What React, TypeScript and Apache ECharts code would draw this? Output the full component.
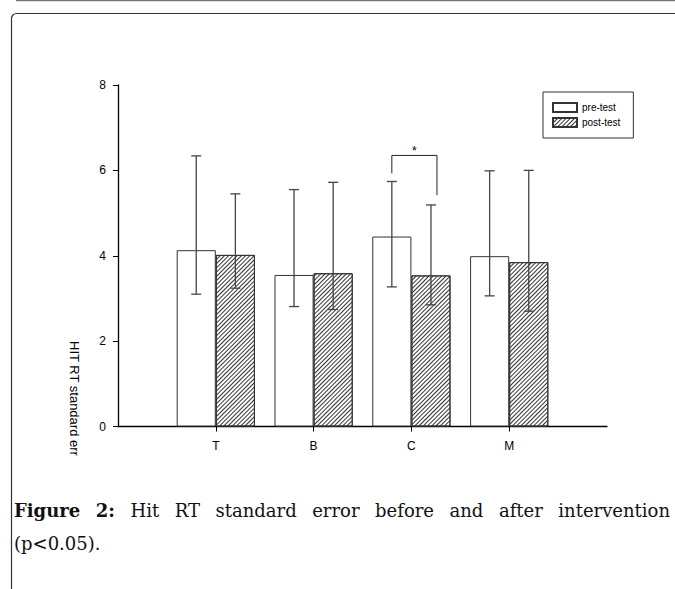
import React, { useEffect, useRef } from 'react';
import * as echarts from 'echarts';

// ---- data ----
const categories = ['', 'T', 'B', 'C', 'M', ''];
const seriesNames = ['pre-test', 'post-test'];
const preTest = [4.13, 3.55, 4.45, 3.99];
const postTest = [4.02, 3.59, 3.54, 3.85];
const preLow = [3.1, 2.81, 3.27, 3.06];
const preHigh = [6.34, 5.55, 5.74, 5.99];
const postLow = [3.24, 2.74, 2.85, 2.7];
const postHigh = [5.45, 5.72, 5.19, 6.0];
const yMin = 0;
const yMax = 8;
const yStep = 2;
const sigGroup = ['C'];
const sigTop = [6.35];
const sigLeftEnd = [5.93];
const sigRightEnd = [5.42];
const sigLabel = ['*'];
const yTitle = 'HIT RT standard err';
const captionBoldWords = ['Figure', '2:'];
const captionWords = ['Hit', 'RT', 'standard', 'error', 'before', 'and', 'after', 'intervention'];
const captionLine2 = '(p<0.05).';

const pad = (arr: number[]) => ['-', ...arr, '-'];

export default function App() {
  const ref = useRef<HTMLDivElement>(null);
  useEffect(() => {
    if (!ref.current) return;
    document.body.style.margin = '0';
    const chart = echarts.init(ref.current, null, { renderer: 'svg' });

    // caption justification
    const capFont = '"DejaVu Serif", serif';
    const capSize = 18;
    const canvas = document.createElement('canvas');
    const ctx = canvas.getContext('2d')!;
    const words = [
      ...captionBoldWords.map((w) => ({ w, bold: true })),
      ...captionWords.map((w) => ({ w, bold: false })),
    ];
    const widths = words.map(({ w, bold }) => {
      ctx.font = `${bold ? 'bold ' : ''}${capSize}px ${capFont}`;
      return ctx.measureText(w).width;
    });
    const x0 = 14;
    const x1 = 670;
    const total = widths.reduce((a, b) => a + b, 0);
    const gap = (x1 - x0 - total) / (words.length - 1);
    let cx = x0;
    const captionEls: any[] = words.map(({ w, bold }, i) => {
      const el = {
        type: 'text',
        x: cx,
        y: 510,
        style: {
          text: w,
          fontFamily: capFont,
          fontSize: capSize,
          fontWeight: bold ? 'bold' : 'normal',
          fill: '#111',
          align: 'left',
          verticalAlign: 'middle',
        },
      };
      cx += widths[i] + gap;
      return el;
    });

    const errData = (lo: number[], hi: number[]) => lo.map((l, i) => [i + 1, l, hi[i]]);
    const errSeries = (name: string, data: number[][], sign: number) => ({
      type: 'custom',
      name: name + ' error',
      data,
      z: 5,
      silent: true,
      renderItem: (params: any, api: any) => {
        const idx = api.value(0);
        const lo = api.value(1);
        const hi = api.value(2);
        const band = api.size([1, 0])[0];
        const pLo = api.coord([idx, lo]);
        const pHi = api.coord([idx, hi]);
        const x = pLo[0] + sign * band * 0.2;
        const cap = 5;
        const st = { stroke: '#444', lineWidth: 1.3 };
        return {
          type: 'group',
          children: [
            { type: 'line', shape: { x1: x, y1: pLo[1], x2: x, y2: pHi[1] }, style: st },
            { type: 'line', shape: { x1: x - cap, y1: pHi[1], x2: x + cap, y2: pHi[1] }, style: st },
            { type: 'line', shape: { x1: x - cap, y1: pLo[1], x2: x + cap, y2: pLo[1] }, style: st },
          ],
        };
      },
    });

    const option: any = {
      animation: false,
      backgroundColor: '#fff',
      grid: { left: 118, right: 68, top: 85, bottom: 162.5, containLabel: false },
      legend: {
        data: seriesNames,
        orient: 'vertical',
        left: 543,
        top: 92,
        padding: [10, 13, 10, 9],
        itemWidth: 24,
        itemHeight: 9,
        itemGap: 4,
        borderColor: '#333',
        borderWidth: 1,
        icon: 'rect',
        textStyle: { fontSize: 10, fontFamily: 'Arial, "Liberation Sans"', color: '#000' },
      },
      xAxis: {
        type: 'category',
        data: categories,
        boundaryGap: false,
        axisLine: { lineStyle: { color: '#000', width: 1.3 } },
        axisTick: {
          show: true,
          length: 5,
          interval: (i: number) => i >= 1 && i <= categories.length - 2,
          lineStyle: { color: '#000' },
        },
        axisLabel: {
          interval: 0,
          margin: 13,
          fontSize: 12,
          fontFamily: 'Arial, "Liberation Sans"',
          color: '#000',
        },
        splitLine: { show: false },
      },
      yAxis: {
        type: 'value',
        min: yMin,
        max: yMax,
        interval: yStep,
        axisLine: { show: true, lineStyle: { color: '#000', width: 1.3 } },
        axisTick: { show: true, length: 5, lineStyle: { color: '#000' } },
        axisLabel: {
          margin: 12,
          fontSize: 12,
          fontFamily: 'Arial, "Liberation Sans"',
          color: '#000',
        },
        splitLine: { show: false },
      },
      series: [
        {
          type: 'bar',
          name: seriesNames[0],
          data: pad(preTest),
          barGap: '0%',
          barCategoryGap: '20%',
          itemStyle: { color: '#fff', borderColor: '#333', borderWidth: 1 },
        },
        {
          type: 'bar',
          name: seriesNames[1],
          data: pad(postTest),
          barGap: '0%',
          barCategoryGap: '20%',
          itemStyle: {
            color: '#fff',
            borderColor: '#333',
            borderWidth: 1,
            decal: {
              symbol: 'rect',
              symbolSize: 1,
              color: '#333',
              dashArrayX: [1, 0],
              dashArrayY: [1, 2],
              rotation: -Math.PI / 4,
            },
          },
        },
        errSeries(seriesNames[0], errData(preLow, preHigh), -1),
        errSeries(seriesNames[1], errData(postLow, postHigh), 1),
        {
          type: 'custom',
          name: 'significance',
          silent: true,
          z: 6,
          data: sigGroup.map((g, i) => [categories.indexOf(g), sigTop[i], sigLeftEnd[i], sigRightEnd[i]]),
          renderItem: (params: any, api: any) => {
            const idx = api.value(0);
            const top = api.value(1);
            const band = api.size([1, 0])[0];
            const c = api.coord([idx, top]);
            const xl = c[0] - band * 0.2;
            const xr = c[0] + band * 0.2 + 6;
            const yl = api.coord([idx, api.value(2)])[1];
            const yr = api.coord([idx, api.value(3)])[1];
            return {
              type: 'group',
              children: [
                {
                  type: 'polyline',
                  shape: { points: [[xl, yl], [xl, c[1]], [xr, c[1]], [xr, yr]] },
                  style: { stroke: '#222', fill: null, lineWidth: 1 },
                },
                {
                  type: 'text',
                  x: (xl + xr) / 2,
                  y: c[1] - 4,
                  style: {
                    text: sigLabel[params.dataIndex],
                    fontSize: 12,
                    fontFamily: 'Arial, "Liberation Sans"',
                    fill: '#000',
                    align: 'center',
                    verticalAlign: 'middle',
                  },
                },
              ],
            };
          },
        },
      ],
      graphic: [
        { type: 'line', shape: { x1: 16, y1: 0.5, x2: 675, y2: 0.5 }, style: { stroke: '#777', lineWidth: 1.5 }, silent: true },
        {
          type: 'rect',
          shape: { x: 11.5, y: 13.5, width: 700, height: 640, r: 5 },
          style: { fill: null, stroke: '#333', lineWidth: 1.2 },
          silent: true,
        },
        {
          type: 'text',
          x: 74,
          y: 341,
          rotation: -Math.PI / 2,
          style: {
            text: yTitle,
            fontSize: 13,
            fontFamily: 'Arial, "Liberation Sans"',
            fill: '#000',
            align: 'left',
            verticalAlign: 'middle',
          },
        },
        ...captionEls,
        {
          type: 'text',
          x: x0,
          y: 543,
          style: {
            text: captionLine2,
            fontFamily: capFont,
            fontSize: capSize,
            fill: '#111',
            align: 'left',
            verticalAlign: 'middle',
          },
        },
      ],
    };
    chart.setOption(option);
    return () => chart.dispose();
  }, []);
  return (
    <div
      ref={ref}
      style={{ position: 'absolute', left: 0, top: 0, width: 675, height: 589 }}
    />
  );
}
